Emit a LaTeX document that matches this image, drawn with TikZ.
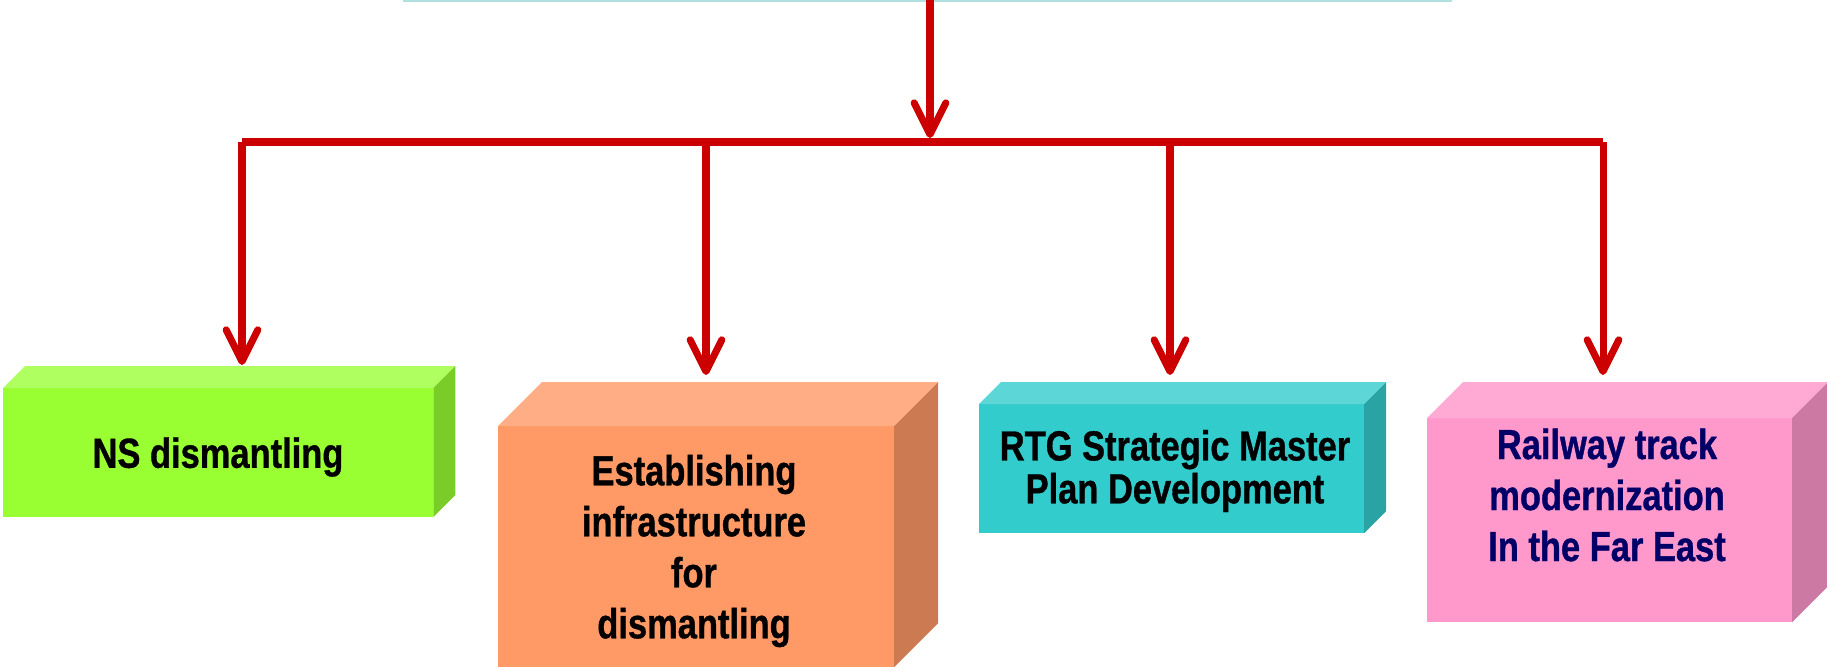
\documentclass[tikz,border=0pt]{standalone}
\usepackage{fontspec}
\usepackage{xcolor}
\usepackage{tikz}
\usetikzlibrary{arrows.meta}
\newfontfamily\boxfont[FakeStretch=0.82,FakeBold=0.8]{Liberation Sans}

\definecolor{arrowred}{HTML}{CC0000}
\definecolor{topcyan}{HTML}{B0E0E0}
\definecolor{nsfront}{HTML}{99FF33}
\definecolor{nstop}{HTML}{B0FF60}
\definecolor{nsside}{HTML}{7ACC29}
\definecolor{infront}{HTML}{FF9966}
\definecolor{intop}{HTML}{FFAD85}
\definecolor{inside}{HTML}{CC7A52}
\definecolor{rtgfront}{HTML}{33CCCC}
\definecolor{rtgtop}{HTML}{5CD6D6}
\definecolor{rtgside}{HTML}{29A3A3}
\definecolor{railfront}{HTML}{FF99CC}
\definecolor{railtop}{HTML}{FFAAD4}
\definecolor{railside}{HTML}{CC7AA3}
\definecolor{railtext}{HTML}{000066}

\begin{document}
\begin{tikzpicture}[x=0.01cm, y=-0.01cm,
    link/.style={draw=arrowred, line width=2pt},
    tip/.style={-{Straight Barb[length=9pt,width=9pt,round]}},
    front/.style={anchor=north west, inner sep=0pt, outer sep=0pt},
    boxtext/.style={align=center, inner sep=0pt, font=\boxfont\bfseries\fontsize{11.95}{14.5}\selectfont}]
      \useasboundingbox (0,0) rectangle (1827,669);
      \draw[topcyan, line width=0.6pt] (403,0.5) -- (1452,0.5);
      % front faces
      \node[front, fill=nsfront, minimum width=4.30cm, minimum height=1.29cm] (ns) at (3,388) {};
      \node[front, fill=infront, minimum width=3.96cm, minimum height=2.41cm] (in) at (498,426) {};
      \node[front, fill=rtgfront, minimum width=3.85cm, minimum height=1.29cm] (rtg) at (979,404) {};
      \node[front, fill=railfront, minimum width=3.65cm, minimum height=2.04cm] (rail) at (1427,418) {};
      % top and side faces
      \foreach \b/\d in {ns/22, in/44, rtg/22, rail/36}{
        \fill[\b top] (\b.north west) -- ++(\d,-\d) -- ([shift={(\d,-\d)}]\b.north east) -- (\b.north east) -- cycle;
        \fill[\b side] (\b.north east) -- ++(\d,-\d) -- ([shift={(\d,-\d)}]\b.south east) -- (\b.south east) -- cycle;
      }
      \node[boxtext] (nslabel) at (218,457) {NS dismantling};
      \node[boxtext] (inlabel) at (694,551) {Establishing\\infrastructure\\for\\dismantling};
      \node[boxtext, font=\boxfont\bfseries\fontsize{11.95}{12.2}\selectfont] (rtglabel) at (1175,471) {RTG Strategic Master\\Plan Development};
      \node[boxtext, text=railtext] (raillabel) at (1607,495) {Railway track\\modernization\\In the Far East};
      % connectors
      \coordinate (top) at (930,0);
      \coordinate (bus0) at (930,138);
      \coordinate (bus1) at (242,142);
      \coordinate (bus2) at (706,142);
      \coordinate (bus3) at (1170,142);
      \coordinate (bus4) at (1603,142);
      \draw[link, tip] (top) -- (bus0);
      \draw[link] (bus1) -- (bus4);
      \foreach \c/\b/\s in {bus1/ns/0.23cm, bus2/in/0.51cm, bus3/rtg/0.29cm, bus4/rail/0.43cm}
      \draw[link, tip, shorten >=\s] (\c) -- (\c |- \b.north);
    \end{tikzpicture}
\end{document}
